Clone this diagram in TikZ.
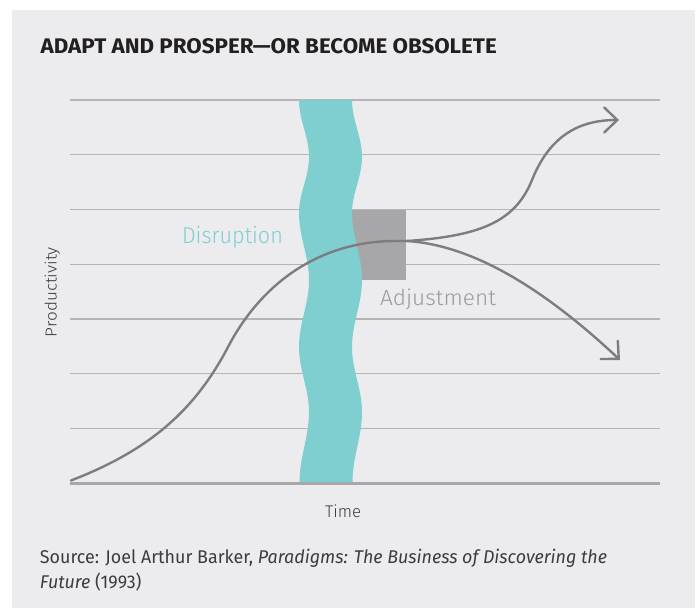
\documentclass[tikz,border=0pt]{standalone}
\usepackage{fontspec}
\usepackage{graphicx}
\usetikzlibrary{arrows.meta}
\newfontfamily\firaf{Fira Sans}
\IfFontExistsTF{Fira Sans Light}{\newfontfamily\lightf{Fira Sans Light}}{\newfontfamily\lightf{Fira Sans}}
\definecolor{panelc}{HTML}{ECECEE}
\definecolor{bandc}{HTML}{7FCFD0}
\definecolor{adjc}{HTML}{A7A7AA}
\definecolor{gridc}{HTML}{B5B5B7}
\definecolor{axisc}{HTML}{A8A8AA}
\definecolor{curvec}{HTML}{7D7D80}
\definecolor{titlec}{HTML}{231F20}
\definecolor{adjtextc}{HTML}{9B9B9E}
\definecolor{textc}{HTML}{3C3C3E}
\newcommand\fitx[2]{\sbox0{#2}\xdef\lastscale{\fpeval{(#1)/(\the\wd0)}}\scalebox{\lastscale}[1]{\usebox0}}
\tikzset{
  gridline/.style={draw=gridc, line width=1.3bp},
  axisline/.style={draw=axisc, line width=2.6bp},
  curveline/.style={draw=curvec, line width=2.4bp, line cap=round},
  barb/.style={-{Straight Barb[length=13bp,width=25bp,line cap=round]}},
  lbl/.style={inner sep=0pt, outer sep=0pt}
}
\begin{document}
\begin{tikzpicture}[x=1bp,y=-1bp]
\useasboundingbox (0,0) rectangle (699,609);
\fill[white] (0,0) rectangle (699,609);
\fill[panelc] (12,10) rectangle (695,608);
% grid
\foreach \i in {0,...,6}{
  \draw[gridline] (70,{100+54.75*\i}) -- (660,{100+54.75*\i});
}
\draw[axisline] (70,483.3) -- (660,483.3);
% adjustment box
\fill[adjc] (350,210) rectangle (406,279.5);
% disruption band
\fill[bandc] (299,100) .. controls (299,120.5) and (309,136.5) .. (309,157)
  .. controls (309,177) and (299,193) .. (299,213)
  .. controls (299,237) and (309,256) .. (309,280)
  .. controls (309,304) and (299,323) .. (299,347)
  .. controls (299,370.4) and (309,388.6) .. (309,412)
  .. controls (309,437) and (299.5,457) .. (299.5,482)
  -- (352.5,482) .. controls (352.5,457) and (362,437) .. (362,412)
  .. controls (362,388.6) and (352,370.4) .. (352,347)
  .. controls (352,323) and (362,304) .. (362,280)
  .. controls (362,256) and (352,237) .. (352,213)
  .. controls (352,193) and (362,177) .. (362,157)
  .. controls (362,136.5) and (352,120.5) .. (352,100) -- cycle;
% curves
\coordinate (start) at (71,480.5);
\coordinate (bend) at (228,347);
\coordinate (peak) at (393,241);
\coordinate (split) at (407,241);
\coordinate (mid) at (532,180);
\coordinate (up) at (619,120);
\coordinate (down) at (620,360);
\draw[curveline] (start) .. controls (150,450) and (195,410) .. (bend)
  .. controls (262,282) and (320,242) .. (peak) -- (split);
\draw[curveline, barb] (split) .. controls (480,236) and (515,222) .. (mid)
  .. controls (550,135) and (580,120) .. (up);
\draw[curveline, barb] (split) .. controls (470,245) and (540,285) .. (down);
% texts
\node[lbl, anchor=base west, text=titlec] (title) at (40.7,53.3)
  {\resizebox{456bp}{15bp}{\firaf\bfseries ADAPT AND PROSPER—OR BECOME OBSOLETE}};
\node[lbl, anchor=base west, text=bandc] (disr) at (182,243)
  {\fitx{101bp}{\fontsize{23}{23}\lightf Disruption}};
\node[lbl, anchor=base west, text=adjtextc] (adj) at (380,305)
  {\fitx{116bp}{\fontsize{22}{22}\lightf Adjustment}};
\node[lbl, anchor=base, rotate=90, text=textc] (prod) at (56.5,292)
  {\fitx{90bp}{\fontsize{16}{16}\lightf Productivity}};
\node[lbl, anchor=base, text=textc] (time) at (343,517)
  {\fitx{36bp}{\fontsize{17}{17}\lightf Time}};
\node[lbl, anchor=base west, text=textc] (src1) at (40,563)
  {\fitx{567bp}{\fontsize{18.5}{18.5}\firaf Source: Joel Arthur Barker, \itshape Paradigms: The Business of Discovering the}};
\node[lbl, anchor=base west, text=textc] (src2) at (40,588)
  {\scalebox{\lastscale}[1]{\fontsize{18.5}{18.5}\firaf\itshape Future\upshape\ (1993)}};
\end{tikzpicture}
\end{document}
